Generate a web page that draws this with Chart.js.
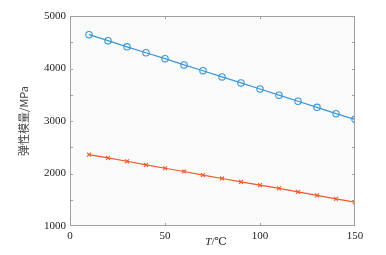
<!DOCTYPE html>
<html>
<head>
<meta charset="utf-8">
<script src="https://cdn.jsdelivr.net/npm/chart.js@4"></script>
<style>
  html, body { margin: 0; padding: 0; background: #fff; }
</style>
</head>
<body>
<canvas id="modChart" width="386" height="255"></canvas>
<script>
// data
const temps = [10, 20, 30, 40, 50, 60, 70, 80, 90, 100, 110, 120, 130, 140, 150];
const upperMod = [4645, 4530, 4412, 4300, 4187, 4068, 3958, 3840, 3725, 3610, 3492, 3376, 3260, 3140, 3032];
const lowerMod = [2360, 2296, 2233, 2165, 2100, 2038, 1970, 1905, 1842, 1778, 1715, 1651, 1584, 1518, 1455];
const xTicks = [0, 50, 100, 150];
const yTicks = [1000, 2000, 3000, 4000, 5000];

const serif = "'Liberation Serif', 'DejaVu Serif', serif";
const boxColor = "#a0a0a0";

function toPoints(xs, ys) {
  return xs.map((x, i) => ({ x: x, y: ys[i] }));
}

// box, inward ticks, axis titles
const framePlugin = {
  id: "frame",
  beforeDraw(chart) {
    const { ctx, chartArea: a } = chart;
    ctx.save();
    ctx.fillStyle = "#fafafa";
    ctx.fillRect(a.left, a.top, a.right - a.left, a.bottom - a.top);
    ctx.restore();
  },
  afterDraw(chart) {
    const { ctx, chartArea: a, scales } = chart;
    ctx.save();
    ctx.strokeStyle = boxColor;
    ctx.lineWidth = 1;
    ctx.strokeRect(a.left + 0.5, a.top + 0.5, a.right - a.left - 1, a.bottom - a.top - 1);
    ctx.beginPath();
    for (let v = 1500; v < 5000; v += 500) {
      const y = Math.round(scales.y.getPixelForValue(v)) + 0.5;
      ctx.moveTo(a.left, y); ctx.lineTo(a.left + 3, y);
      ctx.moveTo(a.right, y); ctx.lineTo(a.right - 3, y);
    }
    for (const v of [50, 100]) {
      const x = Math.round(scales.x.getPixelForValue(v)) + 0.5;
      ctx.moveTo(x, a.top); ctx.lineTo(x, a.top + 3);
      ctx.moveTo(x, a.bottom); ctx.lineTo(x, a.bottom - 3);
    }
    ctx.stroke();

    // x title: T/℃ with italic T
    ctx.fillStyle = "#222";
    ctx.textBaseline = "middle";
    ctx.font = "italic 11px " + serif;
    const tW = ctx.measureText("T").width;
    ctx.font = "11px " + serif;
    const rW = ctx.measureText("/℃").width;
    let x0 = 216 - (tW + rW) / 2;
    ctx.font = "italic 11px " + serif;
    ctx.textAlign = "left";
    ctx.fillText("T", x0, 242);
    ctx.font = "11px " + serif;
    ctx.fillText("/℃", x0 + tW, 242);

    // y title
    ctx.translate(24, (a.top + a.bottom) / 2);
    ctx.rotate(-Math.PI / 2);
    ctx.textAlign = "center";
    ctx.font = "11px 'Noto Sans CJK SC', " + serif;
    ctx.fillStyle = "#444";
    ctx.fillText("弹性模量/MPa", 0, 0);
    ctx.restore();
  }
};

new Chart(document.getElementById("modChart"), {
  type: "line",
  data: {
    datasets: [
      {
        label: "upper",
        data: toPoints(temps, upperMod),
        borderColor: "#3a96d8",
        backgroundColor: "rgba(0,0,0,0)",
        borderWidth: 1.2,
        pointStyle: "circle",
        pointRadius: 3.2,
        pointBorderWidth: 1.1,
        pointBorderColor: "#3a96d8",
        pointBackgroundColor: "rgba(0,0,0,0)"
      },
      {
        label: "lower",
        data: toPoints(temps, lowerMod),
        borderColor: "#f05a28",
        backgroundColor: "rgba(0,0,0,0)",
        borderWidth: 1.2,
        pointStyle: "crossRot",
        pointRadius: 2.8,
        pointBorderWidth: 1.1,
        pointBorderColor: "#f05a28"
      }
    ]
  },
  options: {
    responsive: false,
    animation: false,
    layout: { padding: { top: 16, right: 31, left: 0, bottom: 0 } },
    plugins: { legend: { display: false }, tooltip: { enabled: false } },
    scales: {
      x: {
        type: "linear",
        min: 0,
        max: 150,
        afterBuildTicks: (s) => { s.ticks = xTicks.map(v => ({ value: v })); },
        afterFit: (s) => { s.height = 29; },
        grid: { display: false, drawTicks: false },
        border: { display: false },
        ticks: { padding: 4, maxRotation: 0, color: "#222", font: { family: serif, size: 11 },
                 callback: (v) => String(v) }
      },
      y: {
        min: 1000,
        max: 5000,
        afterBuildTicks: (s) => { s.ticks = yTicks.map(v => ({ value: v })); },
        afterFit: (s) => { s.width = 70; },
        grid: { display: false, drawTicks: false },
        border: { display: false },
        ticks: { padding: 4, color: "#222", font: { family: serif, size: 11 },
                 callback: (v) => String(v) }
      }
    }
  },
  plugins: [framePlugin]
});
</script>
</body>
</html>
